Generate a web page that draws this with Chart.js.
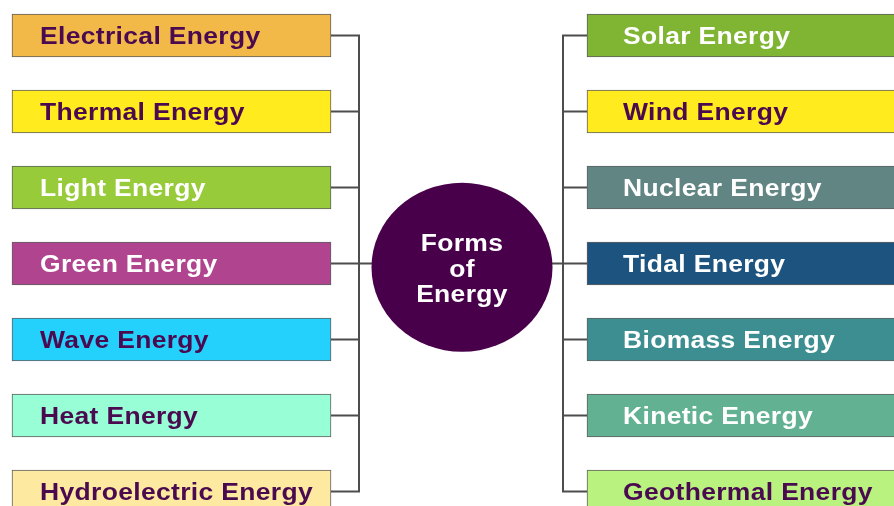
<!DOCTYPE html>
<html>
<head>
<meta charset="utf-8">
<script src="https://cdn.jsdelivr.net/npm/chart.js@4/dist/chart.umd.min.js"></script>
<style>
  html, body { margin: 0; padding: 0; background: #ffffff; }
  #wrap { position: relative; width: 894px; height: 506px; }
</style>
</head>
<body>
<div id="wrap"><canvas id="c"></canvas></div>
<script>
// ---- Data ----
const leftLabels = ['Electrical Energy', 'Thermal Energy', 'Light Energy', 'Green Energy', 'Wave Energy', 'Heat Energy', 'Hydroelectric Energy'];
const rightLabels = ['Solar Energy', 'Wind Energy', 'Nuclear Energy', 'Tidal Energy', 'Biomass Energy', 'Kinetic Energy', 'Geothermal Energy'];
const centerLabel = ['Forms', 'of', 'Energy'];
const rowIndex = [0, 1, 2, 3, 4, 5, 6];

// ---- Styles ----
const leftColors = ['#f3b948', '#ffeb1e', '#98cb3a', '#b0448f', '#24d1fd', '#98fed6', '#fee9a0'];
const rightColors = ['#7fb533', '#ffeb1e', '#618583', '#1d537f', '#3c8e90', '#63b193', '#b9f27f'];
const DARK = '#4a0a4f', LIGHT = '#ffffff';
const leftTextColors = [DARK, DARK, LIGHT, LIGHT, DARK, DARK, DARK];
const rightTextColors = [LIGHT, DARK, LIGHT, LIGHT, LIGHT, LIGHT, DARK];
const circleColor = '#48004b';
const lineColor = '#4d4d4d';

// ---- Layout (pixel-space scale units) ----
const LEFT_SPAN = [12, 331];
const RIGHT_SPAN = [587, 900];
const LEFT_TRUNK = 359, RIGHT_TRUNK = 563;
const CIRCLE = { x: 462, row: 3.05, rx: 90.5, ry: 84.5 };
const TEXT_PAD = { left: 28, right: 36 };
const FONT = 'bold 23px "Liberation Sans", Arial, sans-serif';
const TEXT_STRETCH = 1.15;

const diagramPlugin = {
  id: 'diagram',
  beforeDatasetsDraw(chart) {
    const ctx = chart.ctx;
    const xs = chart.scales.x, ys = chart.scales.y;
    const lm = chart.getDatasetMeta(0).data, rm = chart.getDatasetMeta(1).data;
    ctx.save();
    ctx.strokeStyle = lineColor;
    ctx.lineWidth = 2;
    const lt = xs.getPixelForValue(LEFT_TRUNK), rt = xs.getPixelForValue(RIGHT_TRUNK);
    ctx.beginPath();
    lm.forEach(b => { ctx.moveTo(b.x, b.y); ctx.lineTo(lt, b.y); });
    ctx.moveTo(lt, lm[0].y - 1); ctx.lineTo(lt, lm[lm.length - 1].y + 1);
    rm.forEach(b => { ctx.moveTo(rt, b.y); ctx.lineTo(b.base, b.y); });
    ctx.moveTo(rt, rm[0].y - 1); ctx.lineTo(rt, rm[rm.length - 1].y + 1);
    const mid = ys.getPixelForValue(3);
    ctx.moveTo(lt, mid); ctx.lineTo(rt, mid);
    ctx.stroke();
    ctx.restore();
  },
  afterDatasetsDraw(chart) {
    const ctx = chart.ctx;
    const xs = chart.scales.x, ys = chart.scales.y;
    ctx.save();
    // centre circle
    const cx = xs.getPixelForValue(CIRCLE.x), cy = ys.getPixelForValue(CIRCLE.row);
    ctx.fillStyle = circleColor;
    ctx.beginPath();
    ctx.ellipse(cx, cy, CIRCLE.rx, CIRCLE.ry, 0, 0, Math.PI * 2);
    ctx.fill();
    ctx.font = FONT;
    try { ctx.letterSpacing = '0.3px'; } catch (e) {}
    const drawText = (txt, x, y, color, align) => {
      ctx.save();
      ctx.translate(x, y);
      ctx.scale(TEXT_STRETCH, 1);
      ctx.fillStyle = color;
      ctx.textAlign = align;
      ctx.textBaseline = 'alphabetic';
      ctx.fillText(txt, 0, 0);
      ctx.restore();
    };
    const baselines = [-16.5, 9.5, 35];
    centerLabel.forEach((t, i) => drawText(t, cx, cy + baselines[i], LIGHT, 'center'));
    // box labels
    chart.getDatasetMeta(0).data.forEach((b, i) => {
      drawText(leftLabels[i], b.base + TEXT_PAD.left, b.y + 8.5, leftTextColors[i], 'left');
    });
    chart.getDatasetMeta(1).data.forEach((b, i) => {
      drawText(rightLabels[i], b.base + TEXT_PAD.right, b.y + 8.5, rightTextColors[i], 'left');
    });
    ctx.restore();
  }
};

new Chart(document.getElementById('c'), {
  type: 'bar',
  data: {
    datasets: [
      {
        label: 'left',
        data: rowIndex.map(i => ({ y: i, x: LEFT_SPAN })),
        backgroundColor: leftColors,
      },
      {
        label: 'right',
        data: rowIndex.map(i => ({ y: i, x: RIGHT_SPAN })),
        backgroundColor: rightColors,
      }
    ]
  },
  options: {
    indexAxis: 'y',
    responsive: true,
    maintainAspectRatio: false,
    animation: false,
    events: [],
    layout: { padding: 0 },
    datasets: {
      bar: {
        grouped: false,
        barThickness: 43,
        borderWidth: 1,
        borderColor: '#5f5f5f',
        borderSkipped: false,
      }
    },
    plugins: { legend: { display: false }, tooltip: { enabled: false }, title: { display: false } },
    scales: {
      x: { type: 'linear', min: 0, max: 894, display: false, offset: false },
      y: { type: 'linear', min: -0.467, max: 6.191, reverse: true, display: false, offset: false, grid: { offset: false } }
    }
  },
  plugins: [diagramPlugin]
});
</script>
</body>
</html>
